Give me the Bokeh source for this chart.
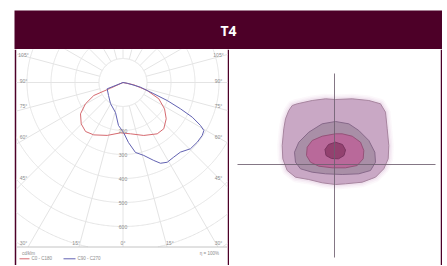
import numpy as np
from bokeh.plotting import figure
from bokeh.layouts import column, row
from bokeh.models import Spacer, Range1d, Span
from bokeh.embed import file_html
from bokeh.resources import INLINE
from bokeh.core.properties import value

# ---------------- data ----------------
TITLE = "T4"

# light distribution curves (angle from nadir in degrees, intensity cd/klm)
c0_angles = [-90, -65.5, -66.0, -60.4, -53.6, -45.3, -37.4, -29.2, -16.6, -2.8, 8.3,
             21.4, 33.7, 41.4, 50.0, 57.6, 65.5, 71.7, 78.0, 90]
c0_values = [0, 57, 133, 180, 220, 245, 257, 250, 230, 210, 216,
             237, 257, 257, 235, 205, 164, 106, 46, 0]

c90_angles = [-90, -68.3, -48.1, -30.8, -14.0, -6.0, 0.6, 5.2, 10.1, 15.9, 21.5, 24.9,
              29.0, 34.2, 39.5, 45.5, 51.2, 56.2, 59.3, 61.0, 63.4, 65.4, 67.8, 69.9,
              75.0, 80.0, 90]
c90_values = [0, 71, 81, 102, 129, 180, 208, 251, 296, 316, 349, 371,
              380, 376, 376, 394, 397, 397, 392, 369, 323, 263, 199, 137,
              75, 18, 0]

ring_values = [100, 200, 300, 400, 500, 600, 700, 800, 900, 1000]
ring_label_values = [200, 300, 400, 500, 600]
side_angles = [105, 90, 75, 60, 45]
bottom_angles = [-30, -15, 0, 15, 30]
unit_text = "cd/klm"
legend_texts = ["C0 - C180", "C90 - C270"]
eta_text = "\u03b7 = 100%"

# isolux contours (m), outer -> inner
iso1_x = [-3.73, -2.23, -0.9, 0.1, 1.77, 3.43, 4.6, 5.1, 5.27, 5.43, 5.37, 4.93, 4.1,
          2.77, 1.1, 0.1, -1.23, -2.57, -3.9, -4.73, -5.17, -5.23, -5.07, -4.9, -4.57, -4.23]
iso1_y = [6.07, 6.4, 6.57, 6.5, 6.57, 6.4, 6.07, 5.23, 3.57, 1.9, 0.57, -0.43, -1.27,
          -1.77, -1.93, -2.0, -1.83, -1.5, -1.27, -0.6, 0.57, 1.9, 3.57, 4.57, 5.4, 5.9]
iso2_x = [0.1, -1.23, -2.57, -3.57, -4.0, -3.9, -3.4, -2.23, -0.9, 0.77, 2.43, 3.6,
          4.1, 4.03, 3.43, 2.43, 1.43]
iso2_y = [4.3, 4.07, 3.23, 2.23, 1.23, 0.23, -0.43, -0.77, -0.93, -1.0, -0.93, -0.6,
          0.23, 1.23, 2.4, 3.4, 4.07]
iso3_x = [0.1, -1.23, -2.23, -2.73, -2.8, -2.4, -1.57, -0.23, 1.1, 2.27, 2.87, 2.93,
          2.6, 1.77, 0.77]
iso3_y = [3.07, 2.83, 2.4, 1.73, 0.9, 0.23, -0.17, -0.33, -0.33, -0.1, 0.57, 1.4,
          2.23, 2.83, 3.07]
iso4_x = [0.1, -0.6, -0.95, -0.85, -0.3, 0.4, 0.95, 1.1, 0.8]
iso4_y = [2.23, 2.0, 1.5, 0.9, 0.6, 0.57, 0.9, 1.45, 2.0]

# ---------------- styles ----------------
MAROON = "#4d0028"
GRID = "#e4e4e4"
LABEL = "#8c8c8c"
RED = "#d66a70"
BLUE = "#6262b2"
FONT = value("Liberation Sans")

LEFT_PAD = 14
TOP_PAD = 10
BAR_H = 39

# ---------------- title bar ----------------
title_fig = figure(width=428, height=TOP_PAD + BAR_H, x_range=Range1d(0, 1), y_range=Range1d(0, 1),
                   output_backend="svg", toolbar_location=None,
                   min_border_left=0, min_border_right=0, min_border_top=TOP_PAD, min_border_bottom=0,
                   border_fill_color="white", background_fill_color=MAROON,
                   outline_line_color=None)
title_fig.axis.visible = False
title_fig.grid.visible = False
title_fig.text(x=[0.5], y=[0.5], text=[TITLE], text_color="white", text_font=value("Open Sans"),
               text_font_style="bold", text_font_size="14px", text_align="center",
               text_baseline="middle")

# ---------------- polar (LDC) panel ----------------
LW, LH = 215, 216
FW = LW - 4
S = 0.24                 # px per cd/klm
cx_px, cy_px = 106.5, 33.0   # centre, relative to the frame
xr = (-cx_px / S, (FW - cx_px) / S)
yr = (-(LH - cy_px) / S, cy_px / S)
y_clip = -(246.5 - 82) / S
FX0 = 16   # page x of the frame's left edge
def px2x(px):
    return (px - FX0 - cx_px) / S
def py2y(py):
    return -(py - 82) / S

left = figure(width=LW, height=LH, x_range=Range1d(*xr), y_range=Range1d(*yr),
              output_backend="svg", toolbar_location=None,
              min_border_left=2, min_border_right=2, min_border_top=0, min_border_bottom=0,
              border_fill_color=MAROON, background_fill_color="white",
              outline_line_color=None)
left.axis.visible = False
left.grid.visible = False

# rings
t = np.linspace(0, 2 * np.pi, 721)
rx, ry = [], []
for r in ring_values:
    xx = r * np.cos(t)
    yy = r * np.sin(t)
    yy = np.where(yy < y_clip, np.nan, yy)
    rx.append(list(xx)); ry.append(list(yy))
left.multi_line(xs=rx, ys=ry, line_color=GRID, line_width=1)

# radial lines
sx, sy = [], []
for a in range(0, 360, 15):
    th = np.radians(a)
    dx, dy = np.sin(th), -np.cos(th)
    tmax = 2000.0
    if dy < -1e-9:
        tmax = min(tmax, y_clip / dy)
    sx.append([100 * dx, tmax * dx]); sy.append([100 * dy, tmax * dy])
left.multi_line(xs=sx, ys=sy, line_color=GRID, line_width=1)

# curves
def to_xy(angles, vals):
    a = np.radians(np.array(angles, dtype=float))
    v = np.array(vals, dtype=float)
    return v * np.sin(a), -v * np.cos(a)

x0, y0 = to_xy(c0_angles, c0_values)
x9, y9 = to_xy(c90_angles, c90_values)
left.line(x0, y0, line_color=RED, line_width=1)
left.line(x9, y9, line_color=BLUE, line_width=1)

# ring labels
left.text(x=[0] * len(ring_label_values), y=[-v for v in ring_label_values],
          text=[str(v) for v in ring_label_values], text_font=FONT, text_font_size="5px",
          text_color=LABEL, text_align="center", text_baseline="middle")

# angle labels
lx, ly, lt = [], [], []
for a in side_angles:
    cot = np.cos(np.radians(a)) / np.sin(np.radians(a))
    yy = (-97 * cot + 2) / S
    lx += [-99.5 / S, 95.5 / S]; ly += [yy, yy]; lt += [f"{a}\u00b0", f"{a}\u00b0"]
for a in bottom_angles:
    if a == 0:
        xx = 0.0
    elif abs(a) == 30:
        xx = -99.5 if a < 0 else 95.5
    else:
        xx = np.sign(a) * (160 * np.tan(np.radians(abs(a))) + 4)
    lx.append(xx / S); ly.append(-160 / S); lt.append(f"{abs(a)}\u00b0")
left.text(x=lx, y=ly, text=lt, text_font=FONT, text_font_size="5px", text_color=LABEL,
          text_align="center", text_baseline="middle")

# separator & legend
left.add_layout(Span(location=y_clip, dimension="width", line_color="#c4c4c4", line_width=1))
left.text(x=[px2x(21.5)], y=[py2y(253)], text=[unit_text], text_font=FONT,
          text_font_size="4.5px", text_color=LABEL, text_align="left", text_baseline="middle")
left.text(x=[px2x(218.5)], y=[py2y(253)], text=[eta_text], text_font=FONT,
          text_font_size="4.5px", text_color=LABEL, text_align="right", text_baseline="middle")
ly_leg = py2y(258.3)
left.segment(x0=[px2x(19), px2x(63)], y0=[ly_leg, ly_leg],
             x1=[px2x(29), px2x(75)], y1=[ly_leg, ly_leg],
             line_color=[RED, BLUE], line_width=1)
left.text(x=[px2x(31), px2x(77)], y=[ly_leg, ly_leg], text=legend_texts,
          text_font=FONT, text_font_size="4.5px", text_color=LABEL, text_align="left",
          text_baseline="middle")

# ---------------- isolux panel ----------------
RW, RH = 213, LH
RFW = RW - 2
PX = 10.0
rcx, rcy = 105.0, 115.0
right = figure(width=RW, height=RH,
               x_range=Range1d(-rcx / PX, (RFW - rcx) / PX),
               y_range=Range1d(-(RH - rcy) / PX, rcy / PX),
               output_backend="svg", toolbar_location=None,
               min_border_left=0, min_border_right=2, min_border_top=0, min_border_bottom=0,
               border_fill_color=MAROON, background_fill_color="white",
               outline_line_color=None)
right.axis.visible = False
right.grid.visible = False

# soft halo around the outer contour
for lw, al in [(10, 0.06), (7, 0.08), (4, 0.12)]:
    right.patch(iso1_x, iso1_y, fill_color=None, line_color="#c58ec0", line_width=lw,
                line_alpha=al, line_join="round")
right.patch(iso1_x, iso1_y, fill_color="#c9a8c5", line_color="#a7859f", line_width=1)
right.patch(iso2_x, iso2_y, fill_color="#a98fa7", line_color="#87698a", line_width=1)
right.patch(iso3_x, iso3_y, fill_color="#b9699a", line_color="#955278", line_width=1)
right.patch(iso4_x, iso4_y, fill_color="#93416f", line_color="#7a3560", line_width=1)

# crosshair
right.segment(x0=[0, -9.7], y0=[-9.3, 0], x1=[0, 10.1], y1=[9.1, 0],
              line_color="#6f5f70", line_width=1, line_alpha=0.85)

layout = column(row(Spacer(width=LEFT_PAD, height=TOP_PAD + BAR_H), title_fig, spacing=0),
                row(Spacer(width=LEFT_PAD, height=LH), left, right, spacing=0),
                spacing=0)

with open("out.html", "w") as f:
    f.write(file_html(layout, INLINE))
